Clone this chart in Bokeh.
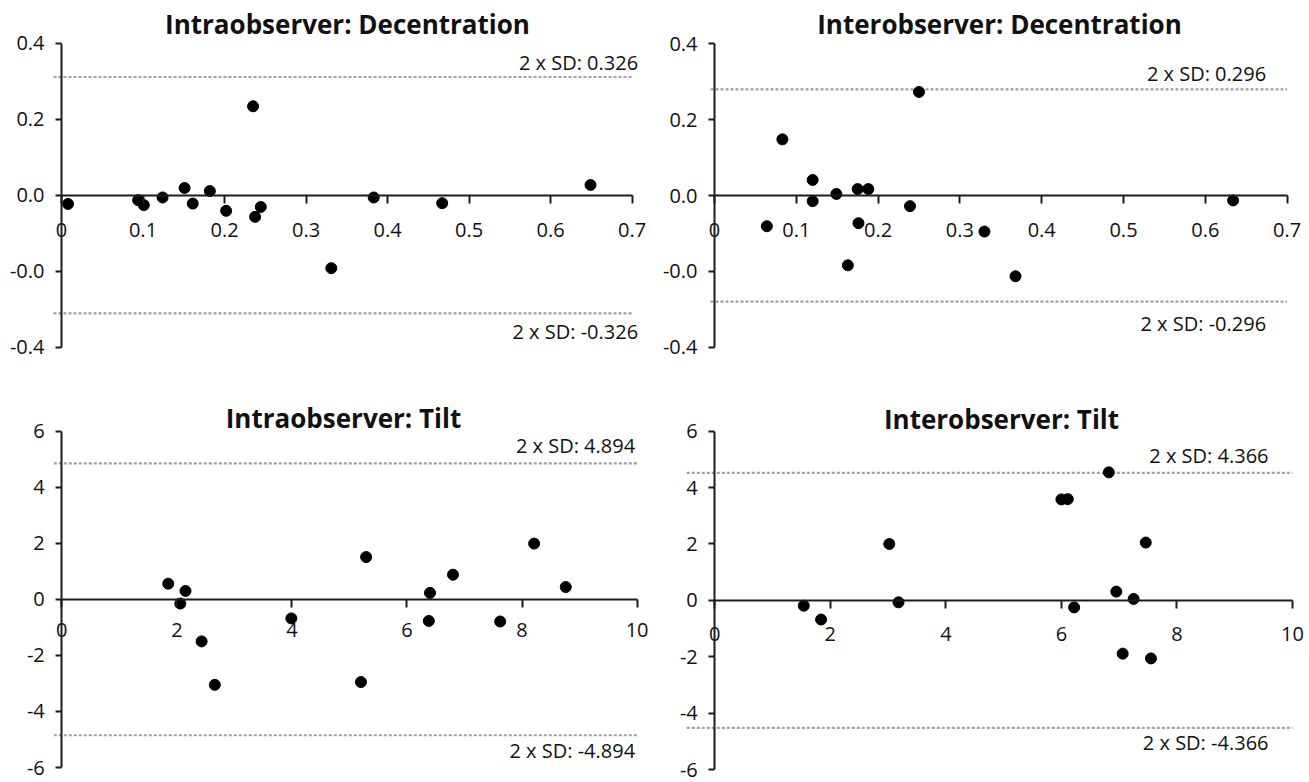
from bokeh.plotting import figure
from bokeh.layouts import column, row
from bokeh.models import Range1d, FixedTicker, ColumnDataSource, Label
from bokeh.core.properties import value
from bokeh.embed import file_html
from bokeh.resources import INLINE

FONT = "Open Sans"

# ---------------- data ----------------
titles = ["Intraobserver: Decentration", "Interobserver: Decentration",
          "Intraobserver: Tilt", "Interobserver: Tilt"]

intra_dec_x = [0.008, 0.094, 0.101, 0.124, 0.151, 0.161, 0.182, 0.202, 0.235, 0.2375, 0.2445, 0.331, 0.383, 0.467, 0.649]
intra_dec_y = [-0.023, -0.013, -0.026, -0.006, 0.019, -0.022, 0.011, -0.041, 0.234, -0.057, -0.031, -0.192, -0.006, -0.021, 0.027]

inter_dec_x = [0.064, 0.083, 0.120, 0.120, 0.149, 0.163, 0.175, 0.176, 0.188, 0.239, 0.250, 0.330, 0.368, 0.634]
inter_dec_y = [-0.081, 0.148, 0.041, -0.015, 0.004, -0.184, 0.017, -0.073, 0.017, -0.028, 0.273, -0.095, -0.213, -0.013]

intra_tilt_x = [1.85, 2.06, 2.15, 2.43, 2.66, 3.99, 5.20, 5.29, 6.38, 6.40, 6.80, 7.62, 8.21, 8.76]
intra_tilt_y = [0.56, -0.15, 0.30, -1.50, -3.05, -0.68, -2.95, 1.51, -0.77, 0.23, 0.88, -0.79, 1.99, 0.44]

inter_tilt_x = [1.54, 1.84, 3.02, 3.18, 6.00, 6.11, 6.22, 6.82, 6.95, 7.06, 7.25, 7.46, 7.55]
inter_tilt_y = [-0.19, -0.68, 2.00, -0.07, 3.58, 3.59, -0.25, 4.54, 0.31, -1.89, 0.05, 2.05, -2.06]

# limit lines (drawn positions) and their labels
intra_dec_limits = [0.311, -0.311]
inter_dec_limits = [0.280, -0.280]
intra_tilt_limits = [4.85, -4.85]
inter_tilt_limits = [4.52, -4.52]
intra_dec_limit_labels = ["2 x SD: 0.326", "2 x SD: -0.326"]
inter_dec_limit_labels = ["2 x SD: 0.296", "2 x SD: -0.296"]
intra_tilt_limit_labels = ["2 x SD: 4.894", "2 x SD: -4.894"]
inter_tilt_limit_labels = ["2 x SD: 4.366", "2 x SD: -4.366"]

dec_xticks = [0, 0.1, 0.2, 0.3, 0.4, 0.5, 0.6, 0.7]
dec_xtick_labels = ["0", "0.1", "0.2", "0.3", "0.4", "0.5", "0.6", "0.7"]
dec_yticks = [-0.4, -0.2, 0, 0.2, 0.4]
dec_ytick_labels = ["-0.4", "-0.0", "0.0", "0.2", "0.4"]

tilt_xticks = [0, 2, 4, 6, 8, 10]
tilt_xtick_labels = ["0", "2", "4", "6", "8", "10"]
tilt_yticks = [-6, -4, -2, 0, 2, 4, 6]
tilt_ytick_labels = ["-6", "-4", "-2", "0", "2", "4", "6"]

AXIS_COLOR = "#1c1c1c"
LIMIT_COLOR = "#a0a0a0"
TEXT_COLOR = "#111111"


def make_panel(title, xs, ys, limits, limit_labels, xticks, xtick_labels, yticks, ytick_labels,
               origin, size, mapping, title_pos, label_dx, label_dy, line_start_px, xlabel_standoff):
    ox, oy = origin
    fw, fh = size
    X0, X1, Yt, Yb = mapping
    xmax = xticks[-1]
    ytop, ybot = yticks[-1], yticks[0]
    kx = (X1 - X0) / xmax
    ky = (Yb - Yt) / (ytop - ybot)

    def px2x(px):
        return (px - X0) / kx

    def py2y(py):
        return ytop - (py - Yt) / ky

    p = figure(frame_width=fw, frame_height=fh,
               min_border_left=0, min_border_right=0, min_border_top=0, min_border_bottom=0,
               x_range=Range1d(px2x(ox), px2x(ox + fw)), y_range=Range1d(py2y(oy + fh), py2y(oy)),
               toolbar_location=None, output_backend="svg")
    p.outline_line_color = None
    p.xgrid.visible = False
    p.ygrid.visible = False
    p.background_fill_color = "white"
    p.border_fill_color = "white"

    xa = p.xaxis[0]
    xa.fixed_location = 0
    xa.bounds = (0, xmax)
    xa.ticker = FixedTicker(ticks=xticks, minor_ticks=[])
    xa.major_label_overrides = {t: l for t, l in zip(xticks, xtick_labels)}
    xa.major_tick_in = 0
    xa.major_tick_out = 8
    xa.minor_tick_line_color = None
    xa.axis_line_width = 2
    xa.axis_line_color = AXIS_COLOR
    xa.major_tick_line_width = 2
    xa.major_tick_line_color = AXIS_COLOR
    xa.major_label_text_font = FONT
    xa.major_label_text_font_size = "20px"
    xa.major_label_text_color = TEXT_COLOR
    xa.major_label_standoff = xlabel_standoff

    ya = p.yaxis[0]
    ya.fixed_location = 0
    ya.bounds = (ybot, ytop)
    ya.ticker = FixedTicker(ticks=yticks, minor_ticks=[])
    ya.major_label_overrides = {t: l for t, l in zip(yticks, ytick_labels)}
    ya.major_tick_in = 0
    ya.major_tick_out = 6
    ya.minor_tick_line_color = None
    ya.axis_line_width = 2
    ya.axis_line_color = AXIS_COLOR
    ya.major_tick_line_width = 2
    ya.major_tick_line_color = AXIS_COLOR
    ya.major_label_text_font = FONT
    ya.major_label_text_font_size = "20px"
    ya.major_label_text_color = TEXT_COLOR
    ya.major_label_standoff = 11

    lim_src = ColumnDataSource(dict(
        y=limits, x0=[-line_start_px / kx] * len(limits), x1=[xmax] * len(limits),
        text=limit_labels, dx=[label_dx] * len(limits), dy=label_dy))
    p.segment(x0="x0", y0="y", x1="x1", y1="y", source=lim_src,
              line_color=LIMIT_COLOR, line_width=2.2, line_dash="3 2")
    p.text(x="x1", y="y", text="text", source=lim_src, x_offset="dx", y_offset="dy",
           text_align="right", text_baseline="middle",
           text_font=value(FONT), text_font_size="20px", text_color=TEXT_COLOR)

    p.scatter(xs, ys, size=11, color="black")

    tx, ty = title_pos
    p.add_layout(Label(x=px2x(tx), y=py2y(ty), text=title, text_align="center",
                       text_baseline="middle", text_font=FONT, text_font_size="26px",
                       text_font_style="bold", text_color=TEXT_COLOR))
    return p


p1 = make_panel(titles[0], intra_dec_x, intra_dec_y, intra_dec_limits, intra_dec_limit_labels,
                dec_xticks, dec_xtick_labels, dec_yticks, dec_ytick_labels,
                origin=(0, 0), size=(655, 390), mapping=(61, 631.6, 42.7, 346.7),
                title_pos=(347, 23), label_dx=6, label_dy=[-15, 18],
                line_start_px=8, xlabel_standoff=20)
p2 = make_panel(titles[1], inter_dec_x, inter_dec_y, inter_dec_limits, inter_dec_limit_labels,
                dec_xticks, dec_xtick_labels, dec_yticks, dec_ytick_labels,
                origin=(655, 0), size=(654, 390), mapping=(714, 1286.6, 43.3, 346.7),
                title_pos=(999, 23), label_dx=-21, label_dy=[-16, 22],
                line_start_px=4, xlabel_standoff=19)
p3 = make_panel(titles[2], intra_tilt_x, intra_tilt_y, intra_tilt_limits, intra_tilt_limit_labels,
                tilt_xticks, tilt_xtick_labels, tilt_yticks, tilt_ytick_labels,
                origin=(0, 390), size=(655, 392), mapping=(61.3, 636.6, 430.7, 767),
                title_pos=(343, 417), label_dx=-2, label_dy=[-18, 15],
                line_start_px=8, xlabel_standoff=16)
p4 = make_panel(titles[3], inter_tilt_x, inter_tilt_y, inter_tilt_limits, inter_tilt_limit_labels,
                tilt_xticks, tilt_xtick_labels, tilt_yticks, tilt_ytick_labels,
                origin=(655, 390), size=(654, 392), mapping=(714.3, 1292, 430.7, 769),
                title_pos=(1001, 418), label_dx=-24, label_dy=[-17, 15],
                line_start_px=28, xlabel_standoff=19)

layout = column(row(p1, p2), row(p3, p4))
open("out.html", "w").write(file_html(layout, INLINE))
